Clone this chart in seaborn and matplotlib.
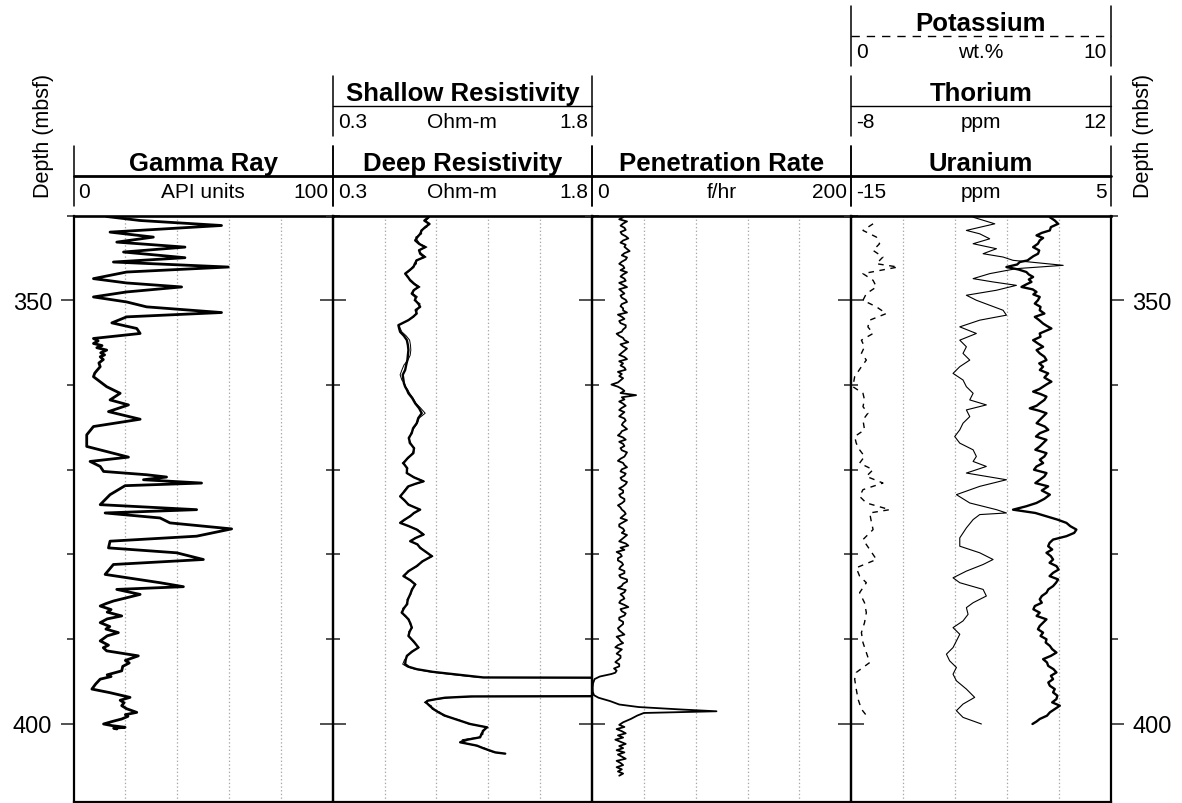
import numpy as np
import matplotlib
matplotlib.use("Agg")
import matplotlib.pyplot as plt
from matplotlib.lines import Line2D
from matplotlib.ticker import MultipleLocator, FixedLocator, NullFormatter
import seaborn as sns

# ---------------- data ----------------
gr_depth = [340.12, 340.59, 341.18, 341.96, 342.55, 343.14, 343.73, 344.31, 344.98, 345.49,
            346.08, 346.67, 347.45, 347.96, 348.43, 349.02, 349.61, 350.20, 350.78, 351.45,
            351.96, 352.67, 353.33, 353.92, 354.51, 354.80, 355.10, 355.35, 355.60, 355.88,
            356.20, 356.45, 356.67, 357.00, 357.40, 357.84, 358.30, 358.60, 359.02,
            360.20, 360.98, 361.76, 362.35, 363.14, 364.04, 364.90, 365.88, 367.25, 368.51,
            369.02, 369.61, 370.20, 370.59, 370.86, 371.18, 371.57, 371.88, 372.94, 374.12,
            374.71, 375.10, 375.69, 376.27, 376.98, 377.84, 378.43, 379.22, 379.80, 380.59,
            381.18, 382.35, 383.33, 383.80, 384.12, 384.71, 385.49, 385.80, 386.08, 386.50,
            386.80, 387.25, 387.60, 388.04, 388.50, 388.80, 389.22, 389.60, 390.20, 390.70,
            391.00, 391.37, 391.96, 392.50, 392.80, 393.20, 393.73, 394.20, 394.40, 394.71,
            395.30, 395.88, 396.30, 396.86, 397.20, 397.50, 397.84, 398.20, 398.63, 398.90,
            399.10, 399.41, 399.70, 400.00, 400.20, 400.39, 400.50, 400.59]
gamma_ray = [12.8, 25.7, 57.1, 14.1, 30.8, 16.7, 43.0, 19.3, 43.0, 15.4,
             59.7, 20.5, 7.7, 20.5, 41.7, 20.5, 7.7, 20.5, 28.2, 57.1,
             20.5, 14.8, 24.4, 25.7, 7.7, 9.5, 7.7, 11.0, 9.0, 12.8,
             10.5, 12.0, 10.3, 11.5, 9.8, 10.3, 9.0, 8.2, 7.7,
             12.8, 18.0, 14.1, 21.2, 13.5, 25.7, 7.7, 5.1, 5.1, 21.2,
             6.4, 10.3, 11.6, 28.2, 35.9, 27.0, 49.4, 19.9, 14.1, 10.3,
             47.5, 12.2, 33.4, 37.2, 61.0, 47.5, 14.1, 13.5, 39.8, 50.1,
             15.4, 12.2, 33.4, 42.4, 16.7, 25.7, 15.4, 12.5, 10.3, 14.5,
             13.0, 18.6, 13.0, 10.3, 14.0, 12.5, 17.3, 13.0, 10.3, 13.5,
             11.5, 12.8, 25.0, 20.0, 21.5, 19.0, 18.6, 13.0, 14.5, 10.3,
             8.5, 7.1, 14.0, 21.8, 18.0, 19.5, 18.6, 20.5, 24.4, 20.0,
             21.0, 18.6, 15.0, 11.6, 15.0, 19.9, 15.5, 16.7]

res_depth = [340.20, 340.60, 341.00, 341.37, 341.75, 342.16, 342.55, 342.94, 343.35, 343.73,
             344.10, 344.51, 344.90, 345.29, 345.70, 346.08, 346.45, 346.86, 347.25, 347.65,
             348.05, 348.43, 348.80, 349.22, 349.60, 350.00, 350.40, 350.78, 351.15, 351.57,
             351.95, 352.35, 352.94, 353.30, 353.73, 354.20, 354.71, 355.30, 355.88, 356.50,
             357.06, 357.65, 358.24, 358.80, 359.41, 359.80, 360.20, 360.60, 360.98, 361.55,
             362.16, 362.75, 363.33, 363.90, 364.51, 365.10, 365.69, 366.25, 366.86, 367.45,
             368.04, 368.60, 369.22, 369.80, 370.39, 370.90, 371.37, 371.65, 371.96, 372.55,
             373.14, 373.60, 374.12, 374.71, 375.10, 375.49, 375.90, 376.27, 376.65, 377.06,
             377.65, 378.05, 378.43, 378.80, 379.22, 379.70, 380.20, 380.80, 381.37, 381.95,
             382.55, 383.05, 383.53, 384.10, 384.71, 385.30, 385.88, 386.35, 386.86, 387.25,
             387.65, 388.15, 388.63, 389.10, 389.61, 390.30, 390.98, 391.45, 391.96, 392.45,
             392.94, 393.25, 393.53, 393.85, 394.12, 394.35, 394.51, 394.59, 396.67, 396.75,
             396.90, 397.06, 397.25, 397.45, 397.84, 398.24, 398.60, 399.02, 399.50, 400.00,
             400.39, 400.78, 401.20, 401.57, 401.85, 402.16, 402.55, 402.85, 403.14, 403.35,
             403.50]
deep_res = [0.854, 0.830, 0.860, 0.835, 0.815, 0.806, 0.790, 0.777, 0.800, 0.835,
            0.800, 0.806, 0.830, 0.786, 0.775, 0.767, 0.745, 0.719, 0.735, 0.748,
            0.770, 0.796, 0.770, 0.757, 0.780, 0.777, 0.795, 0.806, 0.780, 0.786,
            0.765, 0.738, 0.680, 0.684, 0.690, 0.712, 0.729, 0.735, 0.738, 0.735,
            0.732, 0.725, 0.719, 0.705, 0.709, 0.712, 0.719, 0.730, 0.738, 0.760,
            0.777, 0.800, 0.815, 0.795, 0.786, 0.765, 0.757, 0.740, 0.748, 0.770,
            0.767, 0.735, 0.709, 0.730, 0.729, 0.770, 0.825, 0.780, 0.738, 0.715,
            0.690, 0.715, 0.738, 0.806, 0.770, 0.748, 0.715, 0.690, 0.740, 0.786,
            0.825, 0.780, 0.748, 0.790, 0.806, 0.840, 0.873, 0.820, 0.786, 0.740,
            0.709, 0.750, 0.777, 0.760, 0.748, 0.735, 0.729, 0.712, 0.699, 0.720,
            0.738, 0.750, 0.757, 0.745, 0.738, 0.770, 0.796, 0.760, 0.729, 0.722,
            0.719, 0.740, 0.786, 0.880, 0.999, 1.100, 1.172, 3.000, 3.000, 1.100,
            0.950, 0.900, 0.850, 0.840, 0.860, 0.883, 0.910, 0.950, 1.020, 1.095,
            1.192, 1.172, 1.160, 1.153, 1.080, 1.037, 1.134, 1.170, 1.211, 1.240,
            1.298]
shallow_res = [0.860, 0.840, 0.850, 0.845, 0.810, 0.815, 0.780, 0.790, 0.805, 0.845,
               0.795, 0.815, 0.840, 0.780, 0.785, 0.760, 0.750, 0.725, 0.730, 0.755,
               0.775, 0.805, 0.765, 0.765, 0.790, 0.770, 0.805, 0.800, 0.790, 0.780,
               0.770, 0.735, 0.685, 0.690, 0.700, 0.725, 0.745, 0.750, 0.752, 0.748,
               0.735, 0.712, 0.700, 0.690, 0.700, 0.715, 0.722, 0.735, 0.745, 0.765,
               0.782, 0.810, 0.835, 0.800, 0.790, 0.770, 0.752, 0.745, 0.742, 0.775,
               0.760, 0.740, 0.702, 0.735, 0.725, 0.775, 0.830, 0.785, 0.732, 0.710,
               0.695, 0.710, 0.745, 0.800, 0.775, 0.742, 0.720, 0.695, 0.735, 0.792,
               0.830, 0.775, 0.755, 0.785, 0.812, 0.835, 0.880, 0.815, 0.792, 0.735,
               0.715, 0.745, 0.782, 0.755, 0.752, 0.730, 0.735, 0.705, 0.705, 0.715,
               0.742, 0.745, 0.762, 0.740, 0.742, 0.765, 0.800, 0.755, 0.735, 0.715,
               0.705, 0.730, 0.775, 0.860, 0.970, 1.070, 1.150, 3.000, 3.000, 1.130,
               0.970, 0.910, 0.845, 0.830, 0.870, 0.875, 0.920, 0.940, 1.030, 1.085,
               1.200, 1.165, 1.170, 1.145, 1.050, 1.045, 1.125, 1.180, 1.200, 1.235,
               1.290]

# penetration rate: regular 0.25 m samples from 340.2 m down to 393.95 m
pr_top, pr_step = 340.2, 0.25
pen_rate_upper = [24, 21, 27, 24, 22, 25, 26, 22, 23, 26,
                  28, 24, 22, 26, 25, 27, 29, 25, 23, 27,
                  26, 23, 21, 24, 25, 22, 27, 24, 22, 25,
                  26, 21, 24, 27, 21, 23, 25, 22, 23, 26,
                  27, 23, 22, 24, 24, 27, 20, 23, 25, 21,
                  22, 26, 26, 24, 23, 19, 21, 24, 25, 28,
                  22, 24, 27, 25, 23, 21, 25, 27, 21, 24,
                  22, 25, 26, 20, 23, 21, 24, 22, 20, 15,
                  20, 23, 25, 22, 34, 23, 25, 21, 24, 26,
                  23, 21, 25, 23, 21, 25, 26, 24, 23, 25,
                  27, 23, 22, 20, 24, 26, 21, 24, 25, 22,
                  23, 27, 26, 25, 22, 20, 24, 25, 27, 23,
                  22, 26, 25, 22, 23, 27, 26, 24, 21, 24,
                  24, 21, 22, 25, 25, 23, 20, 22, 23, 25,
                  26, 24, 22, 27, 24, 21, 21, 24, 25, 23,
                  27, 25, 23, 21, 26, 28, 22, 25, 19, 22,
                  23, 20, 20, 23, 24, 22, 21, 25, 25, 21,
                  22, 27, 27, 24, 23, 20, 26, 25, 22, 24,
                  25, 22, 21, 25, 28, 22, 23, 26, 25, 21,
                  21, 24, 24, 22, 20, 21, 23, 25, 19, 21,
                  22, 24, 20, 18, 23, 21, 19, 22, 22, 20,
                  18, 21, 21, 17, 19, 18]
pr_lower_depth = [394.1, 394.4, 394.7, 395.2, 395.7, 396.2, 396.6, 396.9, 397.3, 397.7,
                  398.0, 398.3, 398.5, 398.7, 399.0, 399.4, 399.8, 400.1, 400.35, 400.6,
                  400.85, 401.1, 401.35, 401.6, 401.85, 402.1, 402.35, 402.6, 402.85, 403.1,
                  403.35, 403.6, 403.85, 404.1, 404.35, 404.6, 404.85, 405.1, 405.35, 405.6,
                  405.85, 406.1]
pen_rate_lower = [15, 6, 2, 0.8, 0.5, 0.6, 1.5, 5, 14, 21,
                  36, 70, 96, 40, 35, 30, 24, 21, 25, 19,
                  23, 26, 20, 24, 18, 22, 26, 21, 24, 19,
                  25, 20, 23, 26, 19, 22, 24, 19, 23, 20,
                  24, 21]

u_depth = [340.20, 340.59, 340.98, 341.37, 341.76, 342.05, 342.35, 342.65, 342.94, 343.33,
           343.73, 344.12, 344.51, 344.80, 345.10, 345.30, 345.49, 345.78, 346.08, 346.37,
           346.67, 346.96, 347.25, 347.55, 347.84, 348.13, 348.43, 348.72, 349.02, 349.31,
           349.61, 350.00, 350.39, 350.78, 351.18, 351.57, 351.96, 352.35, 352.75, 353.04,
           353.33, 353.62, 353.92, 354.31, 354.71, 355.10, 355.49, 355.88, 356.27, 356.66,
           357.06, 357.45, 357.84, 358.23, 358.63, 359.12, 359.61, 359.90, 360.20, 360.49,
           360.78, 361.07, 361.37, 361.76, 362.16, 362.45, 362.75, 363.04, 363.33, 363.72,
           364.12, 364.51, 364.90, 365.29, 365.69, 366.08, 366.47, 366.86, 367.25, 367.64,
           368.04, 368.43, 368.82, 369.21, 369.61, 370.00, 370.39, 370.78, 371.18, 371.57,
           371.96, 372.45, 372.94, 373.43, 373.92, 374.31, 374.71, 375.10, 375.49, 375.88,
           376.27, 376.66, 377.06, 377.45, 377.84, 378.04, 378.24, 378.63, 379.02, 379.41,
           379.80, 380.20, 380.59, 380.98, 381.37, 381.77, 382.16, 382.55, 382.94, 383.33,
           383.73, 384.12, 384.51, 384.90, 385.29, 385.69, 386.08, 386.47, 386.86, 387.25,
           387.65, 388.04, 388.43, 388.82, 389.22, 389.61, 390.00, 390.39, 390.78, 391.17,
           391.57, 391.96, 392.35, 392.74, 393.14, 393.53, 393.92, 394.31, 394.71, 395.10,
           395.49, 395.88, 396.27, 396.66, 397.06, 397.45, 397.84, 398.24, 398.63, 399.02,
           399.41, 399.70, 400.00]
uranium = [0.32, 0.70, 0.96, 0.40, 0.32, -0.30, -0.71, -0.20, -0.46, -0.60,
           -0.97, -0.50, -0.59, -0.95, -1.23, -1.40, -2.00, -2.20, -3.03, -2.10,
           -1.49, -1.30, -0.97, -1.30, -1.10, -1.50, -1.87, -1.00, -0.71, -0.95,
           -0.46, -0.60, -0.84, -0.40, -0.46, -0.10, -0.84, -0.50, -0.20, 0.10,
           0.44, 0.00, -0.46, -0.40, -0.97, -0.60, -0.20, -0.70, -0.46, -0.10,
           0.06, -0.50, -0.20, -0.45, 0.19, -0.10, 0.44, 0.10, -0.20, -0.50,
           -0.97, -0.40, 0.06, -0.10, -0.46, -0.70, -1.23, -0.50, 0.06, -0.20,
           -0.46, -0.70, -0.07, 0.20, -0.46, -0.75, 0.06, -0.20, -0.46, -0.80,
           0.06, -0.10, -0.46, -0.20, -0.71, -0.90, 0.06, -0.10, -0.46, -0.80,
           0.19, -0.30, 0.32, -0.10, -0.71, -1.50, -2.52, -0.80, 0.06, 0.90,
           1.60, 1.90, 2.37, 2.20, 1.60, 1.10, 0.57, 0.30, 0.19, 0.50,
           0.06, 0.40, 0.57, 0.30, 0.83, 1.00, 0.57, 0.30, 0.96, 0.80,
           0.57, 0.20, 0.06, -0.30, -0.46, -0.30, -0.84, -0.95, -0.46, -0.70,
           0.06, -0.20, -0.46, -0.60, -0.20, -0.40, 0.06, 0.00, 0.32, 0.50,
           0.83, 0.40, -0.20, 0.10, 0.19, 0.60, 0.83, 0.40, 0.57, 0.20,
           0.32, 0.70, 0.57, 0.90, 0.83, 0.50, 1.09, 0.70, 0.32, 0.10,
           -0.46, -0.70, -1.02]

th_depth = [340.20, 340.98, 341.76, 342.16, 342.75, 343.33, 343.92, 344.51, 344.90, 345.29,
            345.88, 346.27, 346.86, 347.45, 347.84, 348.24, 348.82, 349.41, 350.00, 350.59,
            351.18, 351.76, 352.35, 353.14, 353.92, 354.71, 355.49, 356.27, 357.06, 357.84,
            358.63, 359.41, 360.20, 360.98, 361.76, 362.35, 362.94, 363.73, 364.51, 365.29,
            366.08, 366.86, 367.65, 368.43, 369.02, 369.61, 370.39, 371.18, 371.96, 372.94,
            373.92, 374.71, 375.10, 375.29, 375.88, 376.86, 378.04, 379.02, 379.80, 380.59,
            381.18, 381.96, 382.75, 383.33, 384.12, 384.90, 385.69, 386.27, 387.06, 387.84,
            388.63, 389.41, 390.20, 390.98, 391.76, 392.55, 393.33, 394.12, 394.90, 395.88,
            396.86, 397.65, 398.43, 399.22, 400.00]
thorium = [1.40, 3.07, 0.88, 1.91, 2.68, 1.40, 3.20, 2.17, 3.71, 4.48,
           8.35, 4.74, 2.68, 1.40, 2.94, 4.74, 3.20, 0.88, 1.65, 2.68,
           3.71, 3.97, 1.91, 0.37, 1.65, 0.37, 0.88, 0.62, 1.14, 0.37,
           -0.15, 0.62, 0.88, 1.40, 1.14, 2.42, 0.88, 1.14, 0.62, 0.37,
           -0.02, 0.37, 1.40, 1.65, 1.40, 2.42, 0.88, 3.97, 1.91, 0.11,
           1.14, 3.20, 3.97, 1.91, 1.40, 0.88, 0.37, 0.37, 1.91, 2.94,
           2.17, 0.88, -0.15, 0.37, 2.17, 2.42, 1.40, 0.88, 1.01, 0.62,
           -0.15, 0.37, 0.11, -0.15, -0.66, -0.41, 0.11, -0.15, 0.11, 0.88,
           1.52, 0.62, 0.11, 0.62, 2.04]

k_depth = [340.98, 341.76, 342.55, 343.33, 344.12, 344.90, 345.69, 346.08, 346.86, 347.65,
           348.43, 349.22, 350.00, 350.78, 351.57, 352.35, 353.14, 353.92, 354.71, 355.49,
           356.27, 357.06, 357.84, 359.02, 360.20, 360.98, 361.76, 362.55, 363.33, 364.12,
           365.29, 366.08, 366.86, 367.65, 368.43, 369.22, 370.00, 370.78, 371.57, 372.35,
           373.14, 373.92, 374.71, 375.10, 376.08, 377.06, 378.24, 379.41, 380.59, 381.57,
           382.55, 383.33, 384.51, 385.69, 386.86, 388.04, 389.22, 390.39, 391.57, 392.75,
           393.92, 394.71, 395.88, 397.06, 398.24, 399.22]
potassium = [0.84, 0.45, 0.97, 1.09, 0.84, 1.22, 0.97, 1.80, 0.45, 0.84,
             0.97, 0.58, 0.45, 0.97, 1.35, 0.71, 0.64, 0.84, 0.39, 0.51,
             0.39, 0.58, 0.39, 0.13, 0.06, 0.45, 0.51, 0.45, 0.64, 0.45,
             0.51, 0.13, 0.19, 0.32, 0.51, 0.32, 0.84, 0.58, 1.22, 0.45,
             0.32, 0.58, 1.48, 0.71, 0.77, 0.84, 0.45, 0.71, 0.97, 0.19,
             0.32, 0.58, 0.32, 0.51, 0.58, 0.51, 0.39, 0.45, 0.58, 0.71,
             0.19, 0.13, 0.19, 0.26, 0.39, 0.64]

# header texts: (track, row, title, left value, unit, right value)
headers = [
    (0, 0, "Gamma Ray", "0", "API units", "100"),
    (1, 0, "Deep Resistivity", "0.3", "Ohm-m", "1.8"),
    (1, 1, "Shallow Resistivity", "0.3", "Ohm-m", "1.8"),
    (2, 0, "Penetration Rate", "0", "f/hr", "200"),
    (3, 0, "Uranium", "-15", "ppm", "5"),
    (3, 1, "Thorium", "-8", "ppm", "12"),
    (3, 2, "Potassium", "0", "wt.%", "10"),
]
track_limits = [(0, 100), (0.3, 1.8), (0, 200), (-15, 5)]
depth_label = "Depth (mbsf)"

# ---------------- figure ----------------
sns.set_theme(style="white")
plt.rcParams["font.family"] = ["Liberation Sans", "DejaVu Sans"]
plt.rcParams["lines.scale_dashes"] = False
plt.rcParams["text.color"] = "black"
plt.rcParams["axes.labelcolor"] = "black"
plt.rcParams["xtick.color"] = "black"
plt.rcParams["ytick.color"] = "black"

W, H = 1182, 804
fig = plt.figure(figsize=(W / 100, H / 100), dpi=100)


def fx(px):
    return px / W


def fy(py):
    return 1 - py / H


edges = [73.5, 332.7, 592.0, 851.3, 1110.5]
top_px, bot_px = 216.5, 803.3
ymin, ymax = 340.0, 409.24

axes = []
for i in range(4):
    ax = fig.add_axes([fx(edges[i]), fy(bot_px), fx(edges[i + 1] - edges[i]), (bot_px - top_px) / H])
    ax.patch.set_visible(False)  # let neighbouring tracks' outward ticks show through
    lo, hi = track_limits[i]
    ax.set_xlim(lo, hi)
    ax.set_ylim(ymax, ymin)
    ax.xaxis.set_major_locator(FixedLocator([lo + (hi - lo) * f for f in (0.2, 0.4, 0.6, 0.8)]))
    ax.xaxis.grid(True, linestyle=":", color="#a8a8a8", linewidth=0.9)
    ax.yaxis.grid(False)
    ax.tick_params(axis="x", which="both", length=0, labelbottom=False)
    ax.yaxis.set_major_locator(MultipleLocator(50))
    ax.yaxis.set_minor_locator(MultipleLocator(10))
    ax.yaxis.set_minor_formatter(NullFormatter())
    ax.tick_params(axis="y", which="both", left=True, right=True, direction="out",
                   labelleft=(i == 0), labelright=(i == 3), color="0.2",
                   labelcolor="black", width=1.2)
    ax.tick_params(axis="y", which="major", length=9.5, labelsize=17, pad=6)
    ax.tick_params(axis="y", which="minor", length=5)
    for s in ax.spines.values():
        s.set_color("black")
        s.set_linewidth(1.6)
    ax.spines["top"].set_linewidth(1.9)
    axes.append(ax)

# Gamma ray
sns.lineplot(x=gamma_ray, y=gr_depth, sort=False, estimator=None, color="black",
             linewidth=2.0, ax=axes[0])
# Resistivities
sns.lineplot(x=shallow_res, y=res_depth, sort=False, estimator=None, color="black",
             linewidth=0.7, ax=axes[1])
sns.lineplot(x=deep_res, y=res_depth, sort=False, estimator=None, color="black",
             linewidth=1.7, ax=axes[1])
# Penetration rate
pr_depth = [pr_top + pr_step * k for k in range(len(pen_rate_upper))] + pr_lower_depth
pr_vals = pen_rate_upper + pen_rate_lower
sns.lineplot(x=pr_vals, y=pr_depth, sort=False, estimator=None, color="black",
             linewidth=1.3, ax=axes[2])
# Spectral gamma: all three on track 4, each in its own scale via twin axes
ax_th = axes[3].twiny()
ax_k = axes[3].twiny()
for tw, lim in ((ax_th, (-8, 12)), (ax_k, (0, 10))):
    tw.set_xlim(*lim)
    tw.set_ylim(ymax, ymin)
    tw.axis("off")
sns.lineplot(x=uranium, y=u_depth, sort=False, estimator=None, color="black",
             linewidth=1.7, ax=axes[3])
sns.lineplot(x=thorium, y=th_depth, sort=False, estimator=None, color="black",
             linewidth=0.8, ax=ax_th)
sns.lineplot(x=potassium, y=k_depth, sort=False, estimator=None, color="black",
             linewidth=1.0, ax=ax_k)
ax_k.lines[-1].set_linestyle((0, (4, 4)))
for ax in axes + [ax_th, ax_k]:
    ax.set_xlabel("")
    ax.set_ylabel("")
for ax in axes:
    ax.set_ylim(ymax, ymin)

# ---------------- headers ----------------
row_top = {0: 147, 1: 77, 2: 7}
line_style = {0: dict(lw=2.0, ls="-"), 1: dict(lw=1.0, ls="-"), 2: dict(lw=1.0, ls=(0, (6, 5)))}
for (i, r, title, lo_t, unit, hi_t) in headers:
    T = row_top[r]
    x0, x1 = edges[i], edges[i + 1]
    for xe in (x0, x1):
        fig.add_artist(Line2D([fx(xe), fx(xe)], [fy(T), fy(T + 60)], color="black", lw=1.1,
                              transform=fig.transFigure))
    st = line_style[r]
    fig.add_artist(Line2D([fx(x0), fx(x1)], [fy(T + 30), fy(T + 30)], color="black",
                          lw=st["lw"], linestyle=st["ls"], transform=fig.transFigure))
    fig.text(fx((x0 + x1) / 2), fy(T + 24), title, ha="center", va="baseline",
             fontsize=18.5, fontweight="bold")
    fig.text(fx(x0 + 5), fy(T + 51.5), lo_t, ha="left", va="baseline", fontsize=15)
    fig.text(fx((x0 + x1) / 2), fy(T + 51.5), unit, ha="center", va="baseline", fontsize=15)
    fig.text(fx(x1 - 4), fy(T + 51.5), hi_t, ha="right", va="baseline", fontsize=15)

fig.text(fx(44), fy(136), depth_label, rotation=90, ha="center", va="center", fontsize=15.5)
fig.text(fx(1143), fy(136), depth_label, rotation=90, ha="center", va="center", fontsize=15.5)

fig.savefig("out.png", dpi=100, facecolor="white")
